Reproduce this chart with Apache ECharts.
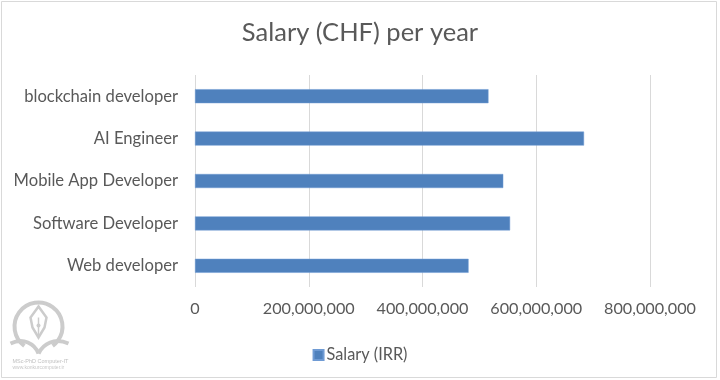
<!DOCTYPE html>
<html>
<head>
<meta charset="utf-8">
<script src="https://cdn.jsdelivr.net/npm/echarts@6/dist/echarts.min.js"></script>
<style>
  html, body { margin: 0; padding: 0; background: #ffffff; }
  #chart { width: 720px; height: 380px; }
</style>
</head>
<body>
<div id="chart"></div>
<script>
const titleText = 'Salary (CHF) per year';
const seriesName = 'Salary (IRR)';
const categories = ['Web developer', 'Software Developer', 'Mobile App Developer', 'AI Engineer', 'blockchain developer'];
const salaries = [481000000, 554000000, 542000000, 684000000, 516000000];
const axisMax = 800000000;
const axisInterval = 200000000;

const FONT = 'Lato, "Open Sans", sans-serif';
const TEXT = '#595959';

const chart = echarts.init(document.getElementById('chart'), null, { renderer: 'canvas' });
chart.setOption({
  backgroundColor: '#ffffff',
  animation: false,
  textStyle: { fontFamily: FONT },
  title: {
    text: titleText,
    left: 'center',
    top: 15,
    textStyle: { fontFamily: FONT, fontSize: 25.5, fontWeight: 'normal', color: TEXT }
  },
  legend: {
    data: [seriesName],
    left: 'center',
    top: 342,
    itemWidth: 10,
    itemHeight: 10,
    itemGap: 5,
    icon: 'rect',
    textStyle: { fontFamily: FONT, fontSize: 16.3, color: TEXT, padding: [0, 0, 0, -2] }
  },
  grid: { left: 195, right: 70, top: 75, bottom: 93, containLabel: false },
  xAxis: {
    type: 'value',
    min: 0,
    max: axisMax,
    interval: axisInterval,
    axisLine: { show: false },
    axisTick: { show: false },
    splitLine: { show: true, lineStyle: { color: '#d9d9d9', width: 1 } },
    axisLabel: {
      margin: 14,
      fontFamily: FONT,
      fontSize: 16.2,
      color: TEXT,
      formatter: v => v.toLocaleString('en-US')
    }
  },
  yAxis: {
    type: 'category',
    data: categories,
    axisLine: { show: false },
    axisTick: { show: false },
    splitLine: { show: false },
    axisLabel: { margin: 17, fontFamily: FONT, fontSize: 16.6, color: TEXT }
  },
  series: [{
    name: seriesName,
    type: 'bar',
    data: salaries,
    barWidth: 14,
    itemStyle: { color: '#4F81BD', borderColor: '#6f9bd4', borderWidth: 0.5 }
  }],
  graphic: [
    {
      type: 'rect', silent: true,
      shape: { x: 1.5, y: 1.5, width: 715, height: 376 },
      style: { fill: 'none', stroke: '#d9d9d9', lineWidth: 1 }
    },
    {
      type: 'group', silent: true, left: 8, top: 300,
      children: [
        { type: 'arc', shape: { cx: 30, cy: 27, r: 24, startAngle: 2.2, endAngle: 2 * Math.PI + 0.94, clockwise: true },
          style: { stroke: '#cccccc', lineWidth: 4, fill: 'none' } },
        { type: 'polygon', shape: { points: [[30, 7], [22, 18], [24, 28], [30, 38], [36, 28], [38, 18]] },
          style: { stroke: '#cccccc', lineWidth: 2.5, fill: 'none' } },
        { type: 'line', shape: { x1: 30, y1: 18, x2: 30, y2: 37 }, style: { stroke: '#cccccc', lineWidth: 1.5 } },
        { type: 'circle', shape: { cx: 30, cy: 26, r: 2 }, style: { fill: '#cccccc' } },
        { type: 'bezierCurve', shape: { x1: 2, y1: 44, cpx1: 15, cpy1: 38, cpx2: 26, cpy2: 44, x2: 30, y2: 54 },
          style: { stroke: '#cccccc', lineWidth: 4, fill: 'none' } },
        { type: 'bezierCurve', shape: { x1: 60, y1: 44, cpx1: 46, cpy1: 38, cpx2: 35, cpy2: 44, x2: 30, y2: 54 },
          style: { stroke: '#cccccc', lineWidth: 4, fill: 'none' } },
        { type: 'text', style: { x: 4, y: 59, text: 'MSc-PhD Computer-IT', fill: '#c0c0c0', font: '5.5px "Liberation Sans", sans-serif' } },
        { type: 'text', style: { x: 4, y: 66, text: 'www.konkurcomputer.ir', fill: '#c8c8c8', font: '5px "Liberation Sans", sans-serif' } }
      ]
    }
  ]
});
</script>
</body>
</html>
